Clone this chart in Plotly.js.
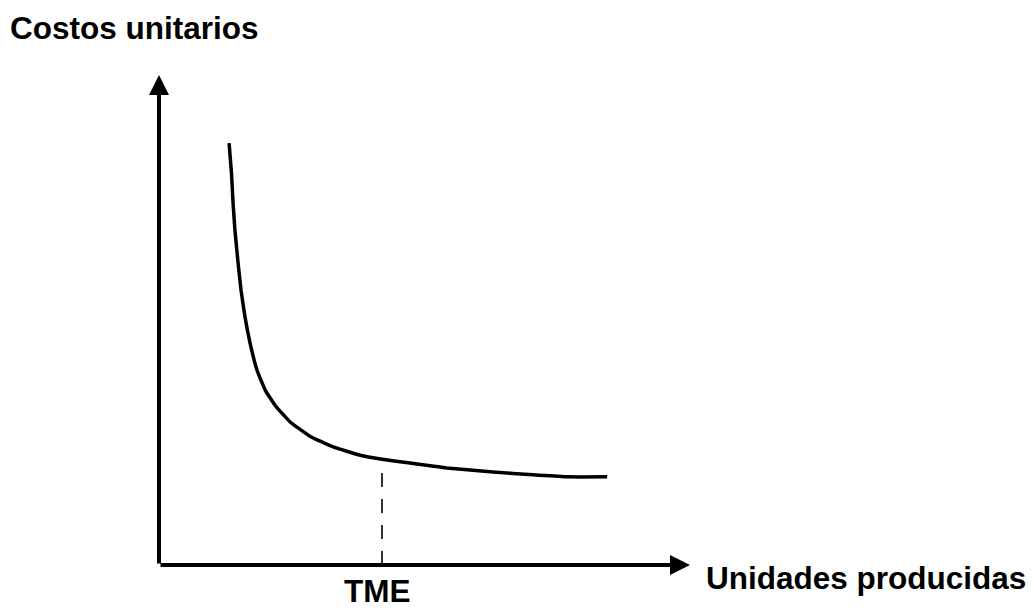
<!DOCTYPE html>
<html><head><meta charset="utf-8">
<script src="https://cdn.plot.ly/plotly-3.0.1.min.js"></script>
<style>html,body{margin:0;padding:0;background:#fff}</style>
</head><body>
<div id="chart" style="width:1034px;height:610px"></div>
<script>
// Data (arbitrary units: x = units produced, y = unit cost)
const unidades = [13.2, 13.65, 13.95, 14.3, 14.9, 15.45, 16.2, 17.15, 18.45, 20.0, 22.0, 24.7, 28.4, 32.8, 37.9, 42.0, 47.3, 54.2, 62.9, 70.4, 76.8, 84.4];
const costos   = [86.1, 80.0, 73.9, 68.4, 61.6, 56.1, 50.6, 45.3, 39.8, 35.7, 32.4, 29.2, 26.3, 24.1, 22.4, 21.6, 20.8, 19.8, 19.0, 18.4, 18.0, 18.0];
const tmeX = 42.0;
const tmeY = 21.6;
const xAxisEnd = 100;
const yAxisEnd = 100;
const xLabel = 'Unidades producidas';
const yLabel = 'Costos unitarios';
const tmeLabel = 'TME';

const FONT = 'Liberation Sans, Arial, Helvetica, sans-serif';
const textFont = {family: FONT, size: 31.5, color: '#000'};

const traces = [
  {x: unidades, y: costos, mode: 'lines', type: 'scatter',
   line: {color: '#000', width: 3.5, shape: 'spline', smoothing: 0.4},
   hoverinfo: 'skip', showlegend: false},
  {x: [tmeX, tmeX], y: [0, tmeY], mode: 'lines', type: 'scatter',
   line: {color: '#000', width: 1.6, dash: '14px,12px'},
   hoverinfo: 'skip', showlegend: false}
];

const layout = {
  width: 1034, height: 610,
  margin: {l: 0, r: 0, t: 0, b: 0},
  paper_bgcolor: '#fff', plot_bgcolor: '#fff',
  showlegend: false,
  xaxis: {range: [-29.94, 164.78], showgrid: false, zeroline: false, showline: false,
          showticklabels: false, ticks: '', fixedrange: true},
  yaxis: {range: [-9.18, 115.31], showgrid: false, zeroline: false, showline: false,
          showticklabels: false, ticks: '', fixedrange: true},
  annotations: [
    {x: xAxisEnd, y: 0, ax: 0, ay: 0, xref: 'x', yref: 'y', axref: 'x', ayref: 'y',
     text: '', showarrow: true, arrowhead: 2, arrowwidth: 4, arrowsize: 1, arrowcolor: '#000', standoff: 0},
    {x: 0, y: yAxisEnd, ax: 0, ay: 0, xref: 'x', yref: 'y', axref: 'x', ayref: 'y',
     text: '', showarrow: true, arrowhead: 2, arrowwidth: 4, arrowsize: 1, arrowcolor: '#000', standoff: 0},
    {x: tmeX, y: -5.3, xref: 'x', yref: 'y', xshift: -5, text: '<b>' + tmeLabel + '</b>', showarrow: false,
     xanchor: 'center', yanchor: 'middle', font: textFont},
    {x: 102.6, y: -2.6, xref: 'x', yref: 'y', text: '<b>' + xLabel + '</b>', showarrow: false,
     xanchor: 'left', yanchor: 'middle', font: textFont},
    {x: -28.4, y: 109.6, xref: 'x', yref: 'y', text: '<b>' + yLabel + '</b>', showarrow: false,
     xanchor: 'left', yanchor: 'middle', font: textFont}
  ]
};

Plotly.newPlot('chart', traces, layout, {displayModeBar: false, staticPlot: true});
</script>
</body></html>
